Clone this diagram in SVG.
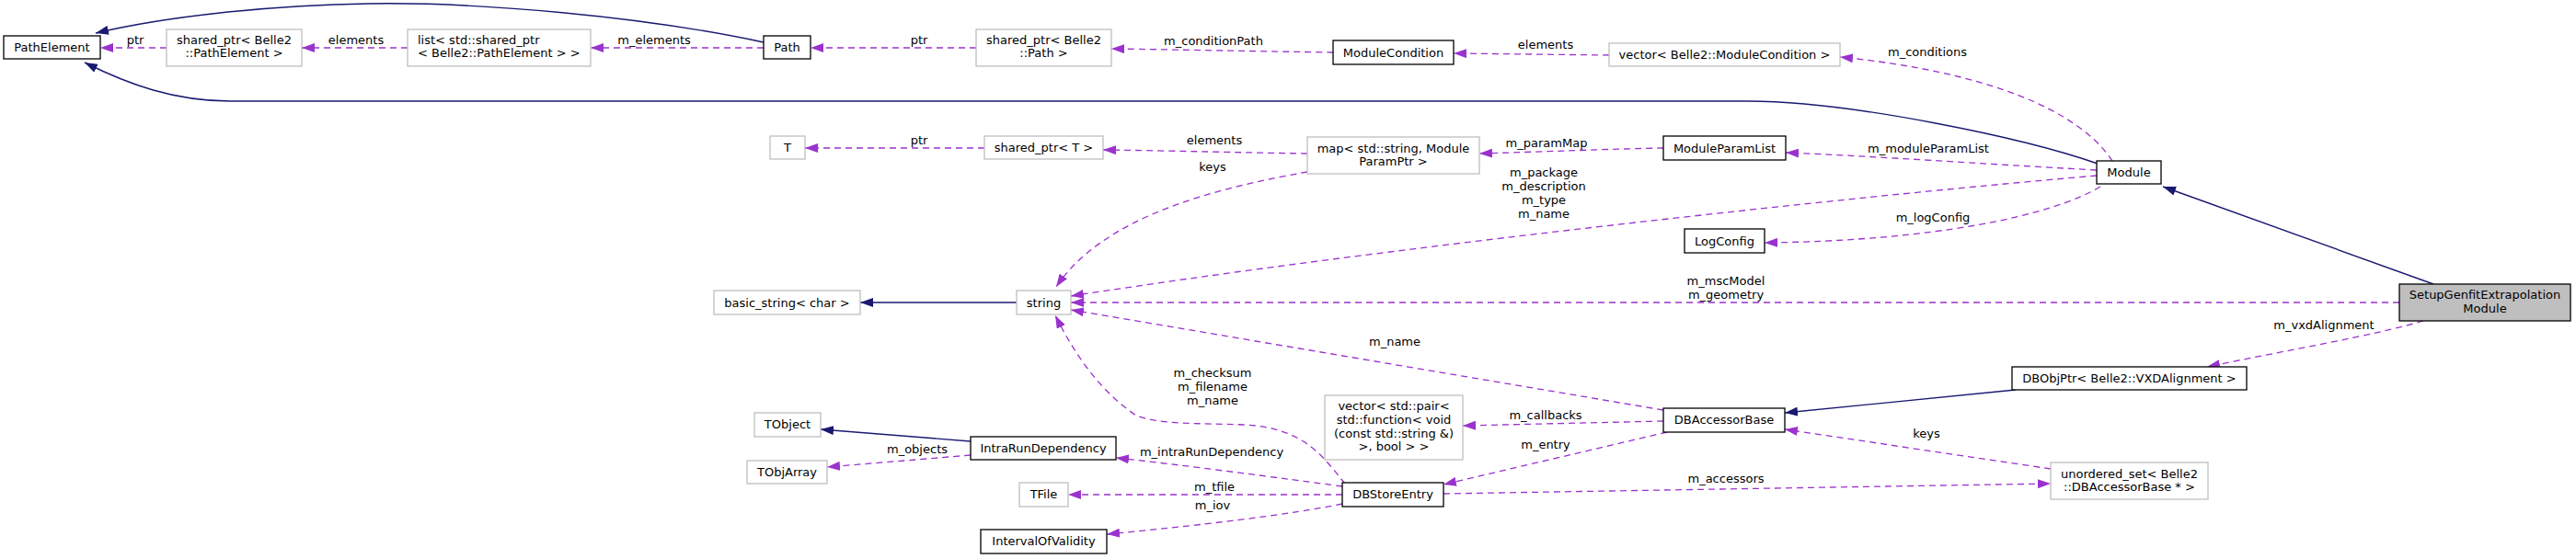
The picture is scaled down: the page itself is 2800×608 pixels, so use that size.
<svg xmlns="http://www.w3.org/2000/svg" width="2800" height="608" viewBox="0 0 2800 608">
<style>
text{font-family:"DejaVu Sans","Liberation Sans",sans-serif;font-size:13px;fill:#000}
.c{text-anchor:middle}
.s{text-anchor:start}
.n rect{fill:#fff;stroke:#000;stroke-width:1.3}
.g rect{fill:#fff;stroke:#bfbfbf;stroke-width:1.3}
.d{fill:none;stroke:#9a32cd;stroke-width:1.3;stroke-dasharray:7,5;marker-end:url(#ap)}
.b{fill:none;stroke:#191970;stroke-width:1.4;marker-end:url(#ab)}
</style>
<defs>
<marker id="ap" markerUnits="userSpaceOnUse" markerWidth="14" markerHeight="10" viewBox="0 0 14 10" refX="14" refY="5" orient="auto"><path d="M0,0 L14,5 L0,10 z" fill="#9a32cd"/></marker>
<marker id="ab" markerUnits="userSpaceOnUse" markerWidth="14" markerHeight="10" viewBox="0 0 14 10" refX="14" refY="5" orient="auto"><path d="M0,0 L14,5 L0,10 z" fill="#191970"/></marker>
</defs>
<rect width="2800" height="608" fill="#fff"/>
<g id="edges">
<path class="d" d="M181,52 L109,52"/>
<path class="d" d="M443,52 L328,52"/>
<path class="d" d="M830,52 L642,52"/>
<path class="d" d="M1061,52 L881,52"/>
<path class="d" d="M1449,57 C1380,56 1280,54 1208,53"/>
<path class="d" d="M1749,60 L1580,58"/>
<path class="d" d="M2296,175 C2260,120 2160,78 2000,62"/>
<path class="b" d="M830,46 C700,18 520,2 400,4 C290,6 180,18 104,36"/>
<path class="b" d="M2280,178 C2200,150 2010,110 1900,110 L250,110 C190,110 140,92 92,68"/>
<path class="b" d="M2645,309 L2351,203"/>
<path class="d" d="M1070,161 L875,161"/>
<path class="d" d="M1421,167 C1350,166 1280,164 1199,163"/>
<path class="d" d="M1421,187 C1320,205 1200,235 1148,312"/>
<path class="d" d="M1808,161 C1750,162 1680,165 1608,167"/>
<path class="d" d="M2279,185 C2150,178 2040,170 1941,166"/>
<path class="d" d="M2279,191 C2000,215 1500,270 1164,322"/>
<path class="d" d="M2283,203 C2230,235 2100,262 1918,264"/>
<path class="d" d="M2608,329 L1164,329"/>
<path class="d" d="M2634,349 C2580,365 2480,382 2399,399"/>
<path class="b" d="M1105,329 L935,329"/>
<path class="d" d="M1808,446 L1164,337"/>
<path class="d" d="M1462,526 C1440,500 1420,465 1352,462 C1300,460 1262,462 1235,452 C1195,425 1168,385 1147,343"/>
<path class="d" d="M1459,529 C1400,521 1280,505 1213,498"/>
<path class="d" d="M1459,538 L1161,538"/>
<path class="d" d="M1459,548 C1400,560 1300,572 1203,581"/>
<path class="d" d="M1055,495 L899,508"/>
<path class="b" d="M1055,480 L892,467"/>
<path class="b" d="M2191,424 L1940,449"/>
<path class="d" d="M1808,458 L1590,463"/>
<path class="d" d="M1812,470 L1569,527"/>
<path class="d" d="M2229,510 L1940,467"/>
<path class="d" d="M1569,537 L2229,526"/>
</g>
<g id="edge-labels">
<text class="c" x="147" y="48">ptr</text>
<text class="c" x="387" y="48">elements</text>
<text class="c" x="711" y="48">m_elements</text>
<text class="c" x="999" y="48">ptr</text>
<text class="c" x="1319" y="49">m_conditionPath</text>
<text class="c" x="1680" y="53">elements</text>
<text class="c" x="2095" y="61">m_conditions</text>
<text class="c" x="999" y="157">ptr</text>
<text class="c" x="1320" y="157">elements</text>
<text class="c" x="1318" y="186">keys</text>
<text class="c" x="1681" y="160">m_paramMap</text>
<text class="c" x="2096" y="166">m_moduleParamList</text>
<text class="c" x="1678" y="192">m_package</text>
<text class="c" x="1678" y="207">m_description</text>
<text class="c" x="1678" y="222">m_type</text>
<text class="c" x="1678" y="237">m_name</text>
<text class="c" x="2101" y="241">m_logConfig</text>
<text class="c" x="1876" y="310">m_mscModel</text>
<text class="c" x="1876" y="325">m_geometry</text>
<text class="c" x="2526" y="358">m_vxdAlignment</text>
<text class="c" x="1516" y="376">m_name</text>
<text class="c" x="1318" y="410">m_checksum</text>
<text class="c" x="1318" y="425">m_filename</text>
<text class="c" x="1318" y="440">m_name</text>
<text class="c" x="997" y="493">m_objects</text>
<text class="c" x="1317" y="496">m_intraRunDependency</text>
<text class="c" x="1320" y="534">m_tfile</text>
<text class="c" x="1318" y="554">m_iov</text>
<text class="c" x="1680" y="456">m_callbacks</text>
<text class="c" x="1680" y="488">m_entry</text>
<text class="c" x="2094" y="476">keys</text>
<text class="c" x="1876" y="525">m_accessors</text>
</g>
<g id="PathElement" class="n"><rect x="4" y="39" width="105" height="25"/><text class="c" x="56.5" y="56">PathElement</text></g>
<g id="sp_PathElement" class="g"><rect x="181" y="32" width="147" height="40"/><text class="c" x="254.5" y="48">shared_ptr&lt; Belle2</text><text class="c" x="254.5" y="62">::PathElement &gt;</text></g>
<g id="list_PathElement" class="g"><rect x="443" y="32" width="199" height="40"/><text class="s" x="454" y="48">list&lt; std::shared_ptr</text><text class="s" x="454" y="62">&lt; Belle2::PathElement &gt; &gt;</text></g>
<g id="Path" class="n"><rect x="830" y="39" width="51" height="25"/><text class="c" x="855.5" y="56">Path</text></g>
<g id="sp_Path" class="g"><rect x="1061" y="32" width="147" height="40"/><text class="c" x="1134.5" y="48">shared_ptr&lt; Belle2</text><text class="c" x="1134.5" y="62">::Path &gt;</text></g>
<g id="ModuleCondition" class="n"><rect x="1449" y="44" width="131" height="26"/><text class="c" x="1514.5" y="61.5">ModuleCondition</text></g>
<g id="vector_ModuleCondition" class="g"><rect x="1749" y="47" width="251" height="25"/><text class="c" x="1874.5" y="64">vector&lt; Belle2::ModuleCondition &gt;</text></g>
<g id="Module" class="n"><rect x="2279" y="175" width="70" height="25"/><text class="c" x="2314" y="192">Module</text></g>
<g id="SetupGenfitExtrapolationModule"><rect x="2608" y="309" width="186" height="40" fill="#bfbfbf" stroke="#000" stroke-width="1.3"/><text class="c" x="2701" y="325">SetupGenfitExtrapolation</text><text class="c" x="2701" y="340">Module</text></g>
<g id="T" class="g"><rect x="837" y="148" width="38" height="25"/><text class="c" x="856" y="165">T</text></g>
<g id="sp_T" class="g"><rect x="1070" y="148" width="129" height="25"/><text class="c" x="1134.5" y="165">shared_ptr&lt; T &gt;</text></g>
<g id="map_ModuleParamPtr" class="g"><rect x="1421" y="149" width="187" height="40"/><text class="c" x="1514.5" y="165.5">map&lt; std::string, Module</text><text class="c" x="1514.5" y="179.5">ParamPtr &gt;</text></g>
<g id="ModuleParamList" class="n"><rect x="1808" y="148" width="133" height="26"/><text class="c" x="1874.5" y="165.5">ModuleParamList</text></g>
<g id="LogConfig" class="n"><rect x="1831" y="249" width="87" height="26"/><text class="c" x="1874.5" y="266.5">LogConfig</text></g>
<g id="basic_string" class="g"><rect x="776" y="316" width="159" height="26"/><text class="c" x="855.5" y="333.5">basic_string&lt; char &gt;</text></g>
<g id="string" class="g"><rect x="1105" y="316" width="59" height="26"/><text class="c" x="1134.5" y="333.5">string</text></g>
<g id="TObject" class="g"><rect x="820" y="449" width="72" height="26"/><text class="c" x="856" y="466">TObject</text></g>
<g id="TObjArray" class="g"><rect x="812" y="501" width="87" height="25"/><text class="c" x="855.5" y="518">TObjArray</text></g>
<g id="IntraRunDependency" class="n"><rect x="1055" y="475" width="158" height="25"/><text class="c" x="1134" y="492">IntraRunDependency</text></g>
<g id="TFile" class="g"><rect x="1108" y="525" width="53" height="26"/><text class="c" x="1134.5" y="542">TFile</text></g>
<g id="IntervalOfValidity" class="n"><rect x="1066" y="576" width="137" height="26"/><text class="c" x="1134.5" y="593">IntervalOfValidity</text></g>
<g id="vector_pair_callbacks" class="g"><rect x="1440" y="430" width="150" height="70"/><text class="c" x="1515" y="446">vector&lt; std::pair&lt;</text><text class="c" x="1515" y="461">std::function&lt; void</text><text class="c" x="1515" y="475.5">(const std::string &amp;)</text><text class="c" x="1515" y="490">&gt;, bool &gt; &gt;</text></g>
<g id="DBAccessorBase" class="n"><rect x="1808" y="444" width="132" height="26"/><text class="c" x="1874" y="461">DBAccessorBase</text></g>
<g id="DBObjPtr_VXDAlignment" class="n"><rect x="2187" y="399" width="255" height="25"/><text class="c" x="2314.5" y="416">DBObjPtr&lt; Belle2::VXDAlignment &gt;</text></g>
<g id="unordered_set_DBAccessorBase" class="g"><rect x="2229" y="503" width="171" height="40"/><text class="c" x="2314.5" y="520">unordered_set&lt; Belle2</text><text class="c" x="2314.5" y="534">::DBAccessorBase * &gt;</text></g>
<g id="DBStoreEntry" class="n"><rect x="1459" y="525" width="110" height="26"/><text class="c" x="1514" y="542">DBStoreEntry</text></g>
</svg>
